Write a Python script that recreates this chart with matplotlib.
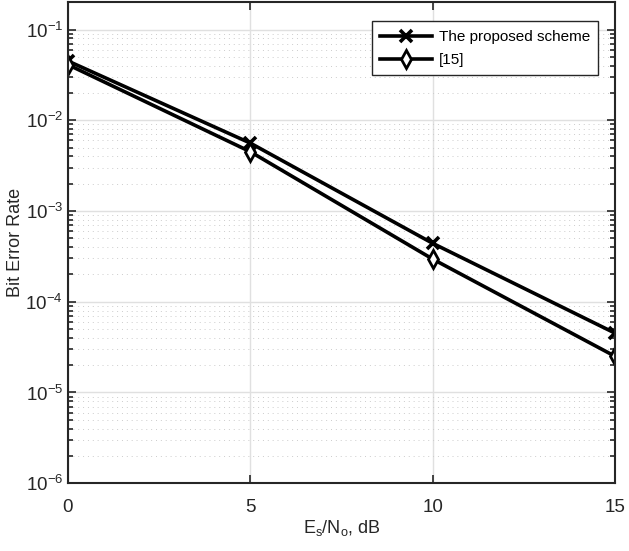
import matplotlib
matplotlib.use("Agg")
import matplotlib.pyplot as plt
import matplotlib.ticker as mticker

plt.rcParams['font.family'] = ['Liberation Sans', 'DejaVu Sans']
plt.rcParams['mathtext.fontset'] = 'custom'
plt.rcParams['mathtext.rm'] = 'Liberation Sans'
plt.rcParams['mathtext.it'] = 'Liberation Sans'

# Es/No in dB
snr_db = [0, 5, 10, 15]
ber_proposed = [4.5e-2, 5.6e-3, 4.4e-4, 4.5e-5]
ber_ref15 = [4.1e-2, 4.5e-3, 2.95e-4, 2.5e-5]
labels = ['The proposed scheme', '[15]']

fig = plt.figure(figsize=(6.29, 5.51), dpi=100)
ax = fig.add_axes([0.108, 0.123, 0.870, 0.873])

ax.semilogy(snr_db, ber_proposed, '-', color='black', lw=2.6,
            marker='x', ms=9, mew=2.6, label=labels[0])
ax.semilogy(snr_db, ber_ref15, '-', color='black', lw=2.6,
            marker='d', ms=9, mew=2.0, mfc='white', label=labels[1])

ax.set_xlim(0, 15)
ax.set_ylim(1e-6, 2e-1)
ax.set_xticks([0, 5, 10, 15])
ax.yaxis.set_major_locator(mticker.LogLocator(base=10, numticks=10))
ax.yaxis.set_minor_locator(mticker.LogLocator(base=10, subs=range(2, 10), numticks=20))
ax.yaxis.set_minor_formatter(mticker.NullFormatter())

ax.grid(True, which='major', color='#e0e0e0', lw=1.0, ls='-')
ax.grid(True, which='minor', axis='y', color='#cccccc', lw=0.7, ls=(0, (1, 4)))
ax.set_axisbelow(True)

ax.tick_params(which='both', direction='in', top=True, right=True,
               labelsize=13.5, colors='#262626', width=1.2)
ax.tick_params(which='major', length=6)
ax.tick_params(which='minor', length=3.5)
ax.tick_params(axis='x', pad=11)
for s in ax.spines.values():
    s.set_linewidth(1.5)
    s.set_color('#262626')

ax.set_xlabel(r'$\mathregular{E_s/N_o}$, dB', fontsize=13, color='#262626', labelpad=2)
ax.set_ylabel('Bit Error Rate', fontsize=13, color='#262626', labelpad=1)

leg = ax.legend(loc='upper right', bbox_to_anchor=(0.969, 0.960), fontsize=11,
                fancybox=False, edgecolor='#262626', framealpha=1,
                handlelength=3.4, borderpad=0.55, labelspacing=0.6,
                handletextpad=0.4, borderaxespad=0.0)
leg.get_frame().set_linewidth(1.0)

fig.savefig('out.png', dpi=100)
